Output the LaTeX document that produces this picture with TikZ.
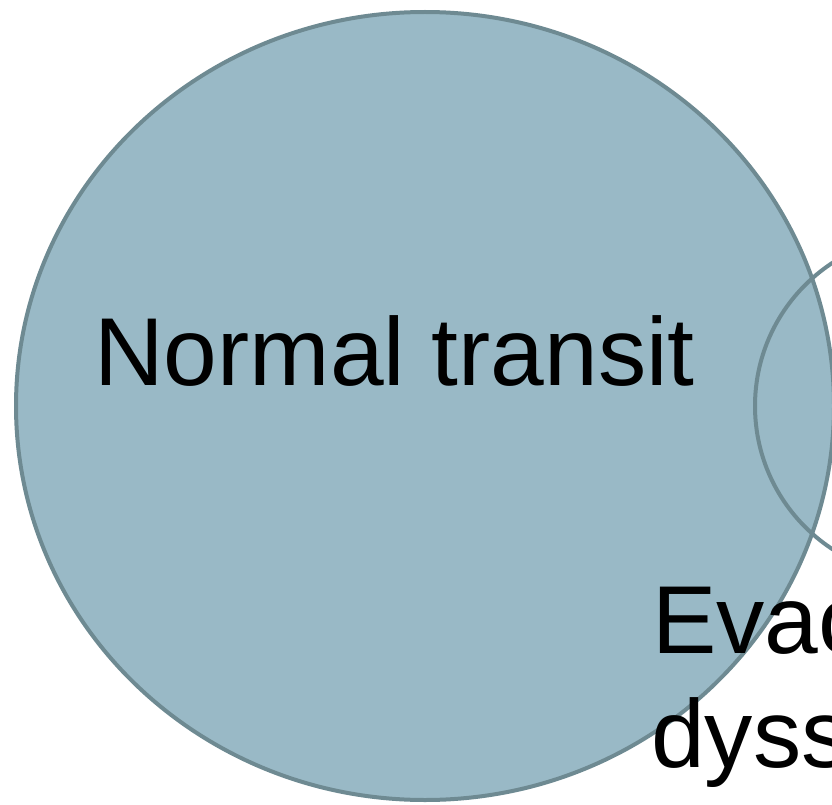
\documentclass[tikz,border=0pt]{standalone}
\usepackage{fontspec}
\setmainfont{Liberation Sans}
\usetikzlibrary{shapes.geometric}
\definecolor{bigfill}{RGB}{153,185,198}
\definecolor{edgecol}{RGB}{110,138,146}
\tikzset{
  vennbig/.style={ellipse, draw=edgecol, fill=bigfill, line width=4pt, inner sep=0pt, outer sep=0pt},
  vennsmall/.style={circle, draw=edgecol, line width=4pt, inner sep=0pt, outer sep=0pt},
  bigtext/.style={font=\fontsize{96.5}{114}\selectfont, inner sep=0pt, text=black}
}
\begin{document}
\begin{tikzpicture}[x=1pt,y=-1pt]
\useasboundingbox (0,0) rectangle (832,805);
\clip (0,0) rectangle (832,805);
\fill[white] (0,0) rectangle (832,805);
\node[vennbig, minimum width=818pt, minimum height=788pt] (big) at (425,406) {};
\node[vennsmall, minimum size=342pt] (small) at (926,406) {};
\node[bigtext, anchor=base west] (normal) at (94,385) {Normal transit};
\node[bigtext, anchor=base west] (evac) at (652,653) {Evac};
\node[bigtext, anchor=base west] (dyss) at (651,767) {dyss};
\end{tikzpicture}
\end{document}
